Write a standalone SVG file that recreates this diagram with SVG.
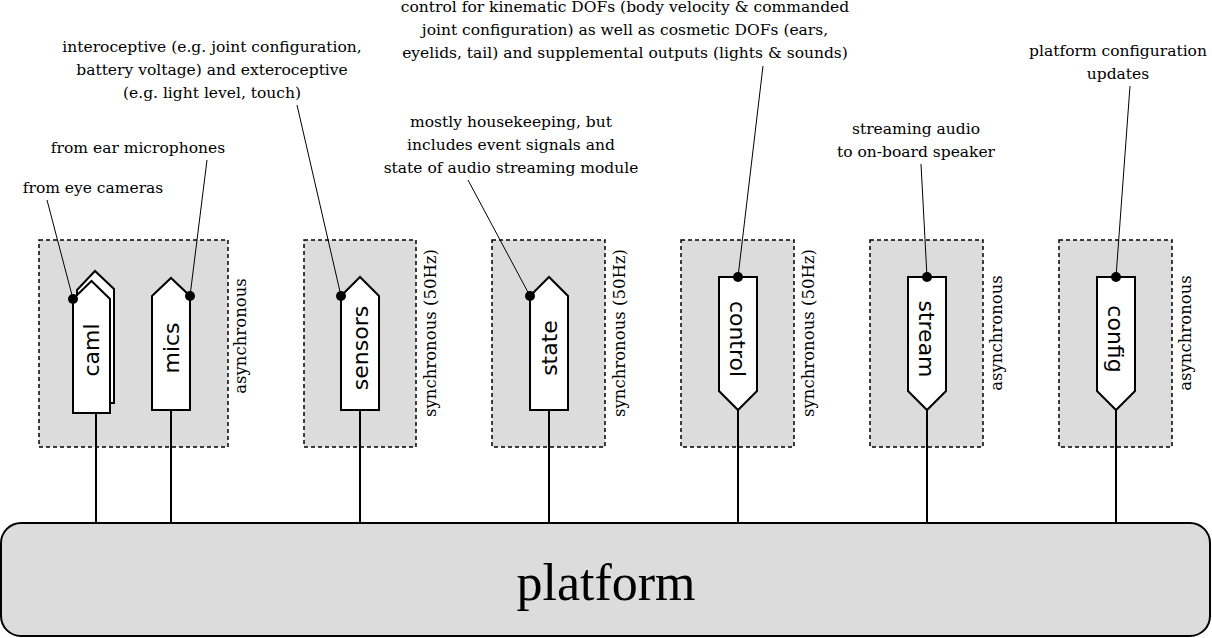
<svg xmlns="http://www.w3.org/2000/svg" width="1212" height="638" viewBox="0 0 1212 638">
<style>
.grp{fill:#dcdcdc;stroke:#000;stroke-width:1.5;stroke-dasharray:4,3}
.port{fill:#fff;stroke:#000;stroke-width:2}
.ln{stroke:#000;stroke-width:2;fill:none}
.ld{stroke:#000;stroke-width:1;fill:none}
.note{font-family:"DejaVu Serif",serif;font-size:15.5px;text-anchor:middle}
.side{font-family:"DejaVu Serif",serif;font-size:16.5px;text-anchor:middle}
.pl{font-family:"DejaVu Sans",sans-serif;font-size:22px;text-anchor:middle}
</style>
<rect width="1212" height="638" fill="#fff"/>
<g id="platform"><rect x="1" y="523" width="1209" height="113" rx="20" fill="#dcdcdc" stroke="#000" stroke-width="2"/>
<text x="606" y="600" font-family="Liberation Serif,serif" font-size="52" text-anchor="middle">platform</text></g>
<g id="groups">
<rect class="grp" x="39" y="240" width="189" height="207"/>
<rect class="grp" x="304" y="240" width="112" height="207"/>
<rect class="grp" x="492" y="240" width="113" height="207"/>
<rect class="grp" x="681" y="240" width="113" height="207"/>
<rect class="grp" x="870" y="240" width="113" height="207"/>
<rect class="grp" x="1059" y="240" width="113" height="207"/>
<text class="side" transform="translate(246,336) rotate(-90)">asynchronous</text>
<text class="side" transform="translate(436,333) rotate(-90)">synchronous (50Hz)</text>
<text class="side" transform="translate(625,333) rotate(-90)">synchronous (50Hz)</text>
<text class="side" transform="translate(814,333) rotate(-90)">synchronous (50Hz)</text>
<text class="side" transform="translate(1002,333) rotate(-90)">asynchronous</text>
<text class="side" transform="translate(1191,333) rotate(-90)">asynchronous</text>
</g>
<g id="connectors">
<line class="ln" x1="96" y1="413" x2="96" y2="523"/>
<line class="ln" x1="171" y1="410" x2="171" y2="523"/>
<line class="ln" x1="360" y1="410" x2="360" y2="523"/>
<line class="ln" x1="549" y1="410" x2="549" y2="523"/>
<line class="ln" x1="738" y1="410" x2="738" y2="523"/>
<line class="ln" x1="927" y1="410" x2="927" y2="523"/>
<line class="ln" x1="1116" y1="410" x2="1116" y2="523"/>
<line class="ld" x1="73" y1="299" x2="47" y2="200"/>
<line class="ld" x1="190" y1="296" x2="207" y2="160"/>
<line class="ld" x1="341" y1="296" x2="297" y2="105"/>
<line class="ld" x1="530" y1="296" x2="468" y2="180"/>
<line class="ld" x1="738" y1="277" x2="763" y2="66"/>
<line class="ld" x1="927" y1="277" x2="921" y2="164"/>
<line class="ld" x1="1116" y1="277" x2="1130" y2="86"/>
</g>
<g id="caml">
<path class="port" d="M77,290 L95,271 L114,289 L114,403 L77,403 Z"/>
<path class="port" d="M73,299 L91.5,281 L110,299 L110,413 L73,413 Z"/>
<text class="pl" transform="translate(99,350) rotate(-90)">caml</text>
<circle cx="73" cy="299" r="5"/></g>
<g id="mics">
<path class="port" d="M152,296 L171,278 L190,296 L190,410 L152,410 Z"/>
<text class="pl" transform="translate(179,348) rotate(-90)">mics</text>
<circle cx="190" cy="296" r="5"/></g>
<g id="sensors">
<path class="port" d="M341,296 L360,277 L379,296 L379,410 L341,410 Z"/>
<text class="pl" transform="translate(368,348) rotate(-90)">sensors</text>
<circle cx="341" cy="296" r="5"/></g>
<g id="state">
<path class="port" d="M530,296 L549,277 L568,296 L568,410 L530,410 Z"/>
<text class="pl" transform="translate(557,348) rotate(-90)">state</text>
<circle cx="530" cy="296" r="5"/></g>
<g id="control">
<path class="port" d="M719,277 L757,277 L757,391 L738,410 L719,391 Z"/>
<text class="pl" transform="translate(730,339) rotate(90)">control</text>
<circle cx="738" cy="277" r="5"/></g>
<g id="stream">
<path class="port" d="M908,277 L946,277 L946,391 L927,410 L908,391 Z"/>
<text class="pl" transform="translate(919,339) rotate(90)">stream</text>
<circle cx="927" cy="277" r="5"/></g>
<g id="config">
<path class="port" d="M1097,277 L1135,277 L1135,391 L1116,410 L1097,391 Z"/>
<text class="pl" transform="translate(1108,339) rotate(90)">config</text>
<circle cx="1116" cy="277" r="5"/></g>
<g id="notes">
<text class="note" x="93" y="193">from eye cameras</text>
<text class="note" x="138" y="153">from ear microphones</text>
<text class="note" x="212" y="52">interoceptive (e.g. joint configuration,</text>
<text class="note" x="212" y="75">battery voltage) and exteroceptive</text>
<text class="note" x="212" y="98">(e.g. light level, touch)</text>
<text class="note" x="511" y="127">mostly housekeeping, but</text>
<text class="note" x="511" y="150">includes event signals and</text>
<text class="note" x="511" y="173">state of audio streaming module</text>
<text class="note" x="625" y="12">control for kinematic DOFs (body velocity &amp; commanded</text>
<text class="note" x="625" y="35">joint configuration) as well as cosmetic DOFs (ears,</text>
<text class="note" x="625" y="58">eyelids, tail) and supplemental outputs (lights &amp; sounds)</text>
<text class="note" x="916" y="134">streaming audio</text>
<text class="note" x="916" y="157">to on-board speaker</text>
<text class="note" x="1118" y="56">platform configuration</text>
<text class="note" x="1118" y="79">updates</text>
</g>
</svg>
